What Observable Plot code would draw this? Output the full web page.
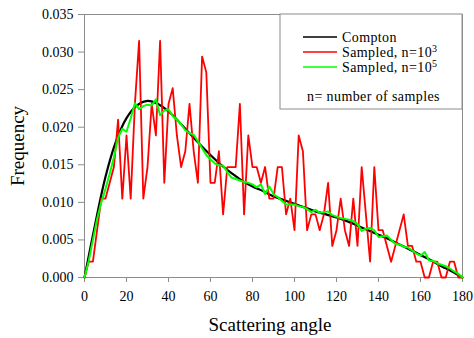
<!DOCTYPE html>
<html><head><meta charset="utf-8">
<script src="https://cdn.jsdelivr.net/npm/d3@7"></script>
<script src="https://cdn.jsdelivr.net/npm/@observablehq/plot@0.6"></script>
<style>
body{margin:0;background:#fff;}
#chart{width:474px;height:338px;}
svg, svg text{font-family:"Liberation Serif","Times New Roman",serif !important;}
</style></head><body><div id="chart"></div>
<script>
// Compton (theory) curve, read every 5 degrees
const comptonAngle = [0,5,10,15,20,25,30,35,40,45,50,55,60,65,70,75,80,85,90,95,100,105,110,115,120,125,130,135,140,145,150,155,160,165,170,175,180];
const comptonFreq = [0,0.0070,0.0134,0.0181,0.0212,0.0229,0.0235,0.0231,0.0221,0.0207,0.0192,0.0177,0.0163,0.0150,0.0139,0.0129,0.0121,0.0115,0.0108,0.0103,0.0098,0.0093,0.0088,0.0084,0.0080,0.0075,0.0069,0.0063,0.0057,0.0051,0.0044,0.0037,0.0030,0.0023,0.0015,0.0008,0];

// Sampled histograms, 2-degree bins
const binAngle = [0,2,4,6,8,10,12,14,16,18,20,22,24,26,28,30,32,34,36,38,40,42,44,46,48,50,52,54,56,58,60,62,64,66,68,70,72,74,76,78,80,82,84,86,88,90,92,94,96,98,100,102,104,106,108,110,112,114,116,118,120,122,124,126,128,130,132,134,136,138,140,142,144,146,148,150,152,154,156,158,160,162,164,166,168,170,172,174,176,178,180];
const sampled1e3 = [0,0.0021,0.0021,0.0063,0.0105,0.0105,0.0126,0.0147,0.0210,0.0105,0.0189,0.0105,0.0231,0.0315,0.0105,0.0147,0.0231,0.0189,0.0315,0.0126,0.0231,0.0252,0.0189,0.0147,0.0168,0.0231,0.0168,0.0126,0.0294,0.0273,0.0126,0.0126,0.0168,0.0084,0.0147,0.0147,0.0147,0.0231,0.0084,0.0189,0.0147,0.0147,0.0126,0.0147,0.0105,0.0105,0.0147,0.0147,0.0084,0.0105,0.0063,0.0189,0.0168,0.0063,0.0084,0.0084,0.0063,0.0084,0.0126,0.0042,0.0063,0.0105,0.0063,0.0042,0.0105,0.0042,0.0147,0.0084,0.0021,0.0147,0.0063,0.0063,0.0042,0.0021,0.0042,0.0063,0.0084,0.0042,0.0042,0.0021,0.0021,0,0,0.0021,0.0021,0,0,0.0021,0.0021,0,0];
const sampled1e5 = [0,0.0022,0.0050,0.0078,0.0100,0.0118,0.0138,0.0160,0.0186,0.0198,0.0194,0.0212,0.0232,0.0224,0.0228,0.0230,0.0229,0.0237,0.0216,0.0222,0.0224,0.0215,0.0210,0.0204,0.0196,0.0192,0.0190,0.0181,0.0172,0.0163,0.0157,0.0152,0.0149,0.0149,0.0140,0.0133,0.0131,0.0129,0.0127,0.0126,0.0124,0.0120,0.0124,0.0111,0.0121,0.0111,0.0107,0.0102,0.0097,0.0097,0.0097,0.0095,0.0094,0.0091,0.0087,0.0090,0.0086,0.0087,0.0088,0.0083,0.0081,0.0079,0.0078,0.0077,0.0075,0.0071,0.0062,0.0065,0.0066,0.0063,0.0054,0.0055,0.0056,0.0050,0.0045,0.0044,0.0041,0.0040,0.0036,0.0032,0.0029,0.0034,0.0023,0.0022,0.0019,0.0017,0.0015,0.0012,0.0008,0.0005,0];

const xTicks = [0,20,40,60,80,100,120,140,160,180];
const yTicks = [0,0.005,0.010,0.015,0.020,0.025,0.030,0.035];

const seriesNames = ["Compton","Sampled, n=10","Sampled, n=10"];
const seriesSup = ["","3","5"];
const seriesColors = ["#000000","#ff0000","#00ff00"];
const note = "n= number of samples";
const xTitle = "Scattering angle";
const yTitle = "Frequency";

const theory = comptonAngle.map((a,i)=>({a, f: comptonFreq[i]}));
const s3 = binAngle.map((a,i)=>({a, f: sampled1e3[i]}));
const s5 = binAngle.map((a,i)=>({a, f: sampled1e5[i]}));

const chart = Plot.plot({
  width: 474, height: 338,
  marginLeft: 84, marginRight: 12, marginTop: 14, marginBottom: 61,
  style: {fontFamily: '"Liberation Serif","Times New Roman",serif', fontSize: "14px", color: "#000", background: "#fff"},
  x: {domain: [0,180]},
  y: {domain: [0,0.035]},
  marks: [
    Plot.frame({stroke: "#8c8c8c"}),
    Plot.axisX({ticks: xTicks, tickSize: 5, tickPadding: 9, label: null, stroke: "#8c8c8c", fontSize: 14}),
    Plot.axisY({ticks: yTicks, tickSize: 6, tickPadding: 5, tickFormat: d3.format(".3f"), label: null, stroke: "#8c8c8c", fontSize: 14}),
    Plot.line(theory, {x: "a", y: "f", stroke: seriesColors[0], strokeWidth: 2.2, curve: "catmull-rom"}),
    Plot.line(s3, {x: "a", y: "f", stroke: seriesColors[1], strokeWidth: 1.8}),
    Plot.line(s5, {x: "a", y: "f", stroke: seriesColors[2], strokeWidth: 2})
  ]
});
document.getElementById("chart").appendChild(chart);

const svg = d3.select(chart);
// axis titles
svg.append("text").attr("x", 20).attr("y", 146).attr("transform", "rotate(-90,20,146)")
  .attr("text-anchor","middle").attr("dominant-baseline","middle").attr("font-size", 19).attr("fill","#000").text(yTitle);
svg.append("text").attr("x", 270).attr("y", 331)
  .attr("text-anchor","middle").attr("font-size", 19).attr("fill","#000").text(xTitle);

// legend box
const lg = svg.append("g").attr("text-anchor","start");
lg.append("rect").attr("x", 280).attr("y", 14).attr("width", 182).attr("height", 95)
  .attr("fill","#fff").attr("stroke","#8c8c8c");
const rowsY = [37, 52, 67];
seriesNames.forEach((n,i)=>{
  lg.append("line").attr("x1",303).attr("x2",337).attr("y1",rowsY[i]).attr("y2",rowsY[i])
    .attr("stroke",seriesColors[i]).attr("stroke-width",1.5);
  const t = lg.append("text").attr("x",342).attr("y",rowsY[i]+5).attr("text-anchor","start")
    .attr("font-size",14).attr("letter-spacing",0.4).attr("fill","#000").text(n);
  if (seriesSup[i]) t.append("tspan").attr("dy",-5).attr("font-size",10).text(seriesSup[i]);
});
lg.append("text").attr("x",307).attr("y",101).attr("text-anchor","start")
  .attr("font-size",14).attr("letter-spacing",0.4).attr("fill","#000").text(note);
</script></body></html>
